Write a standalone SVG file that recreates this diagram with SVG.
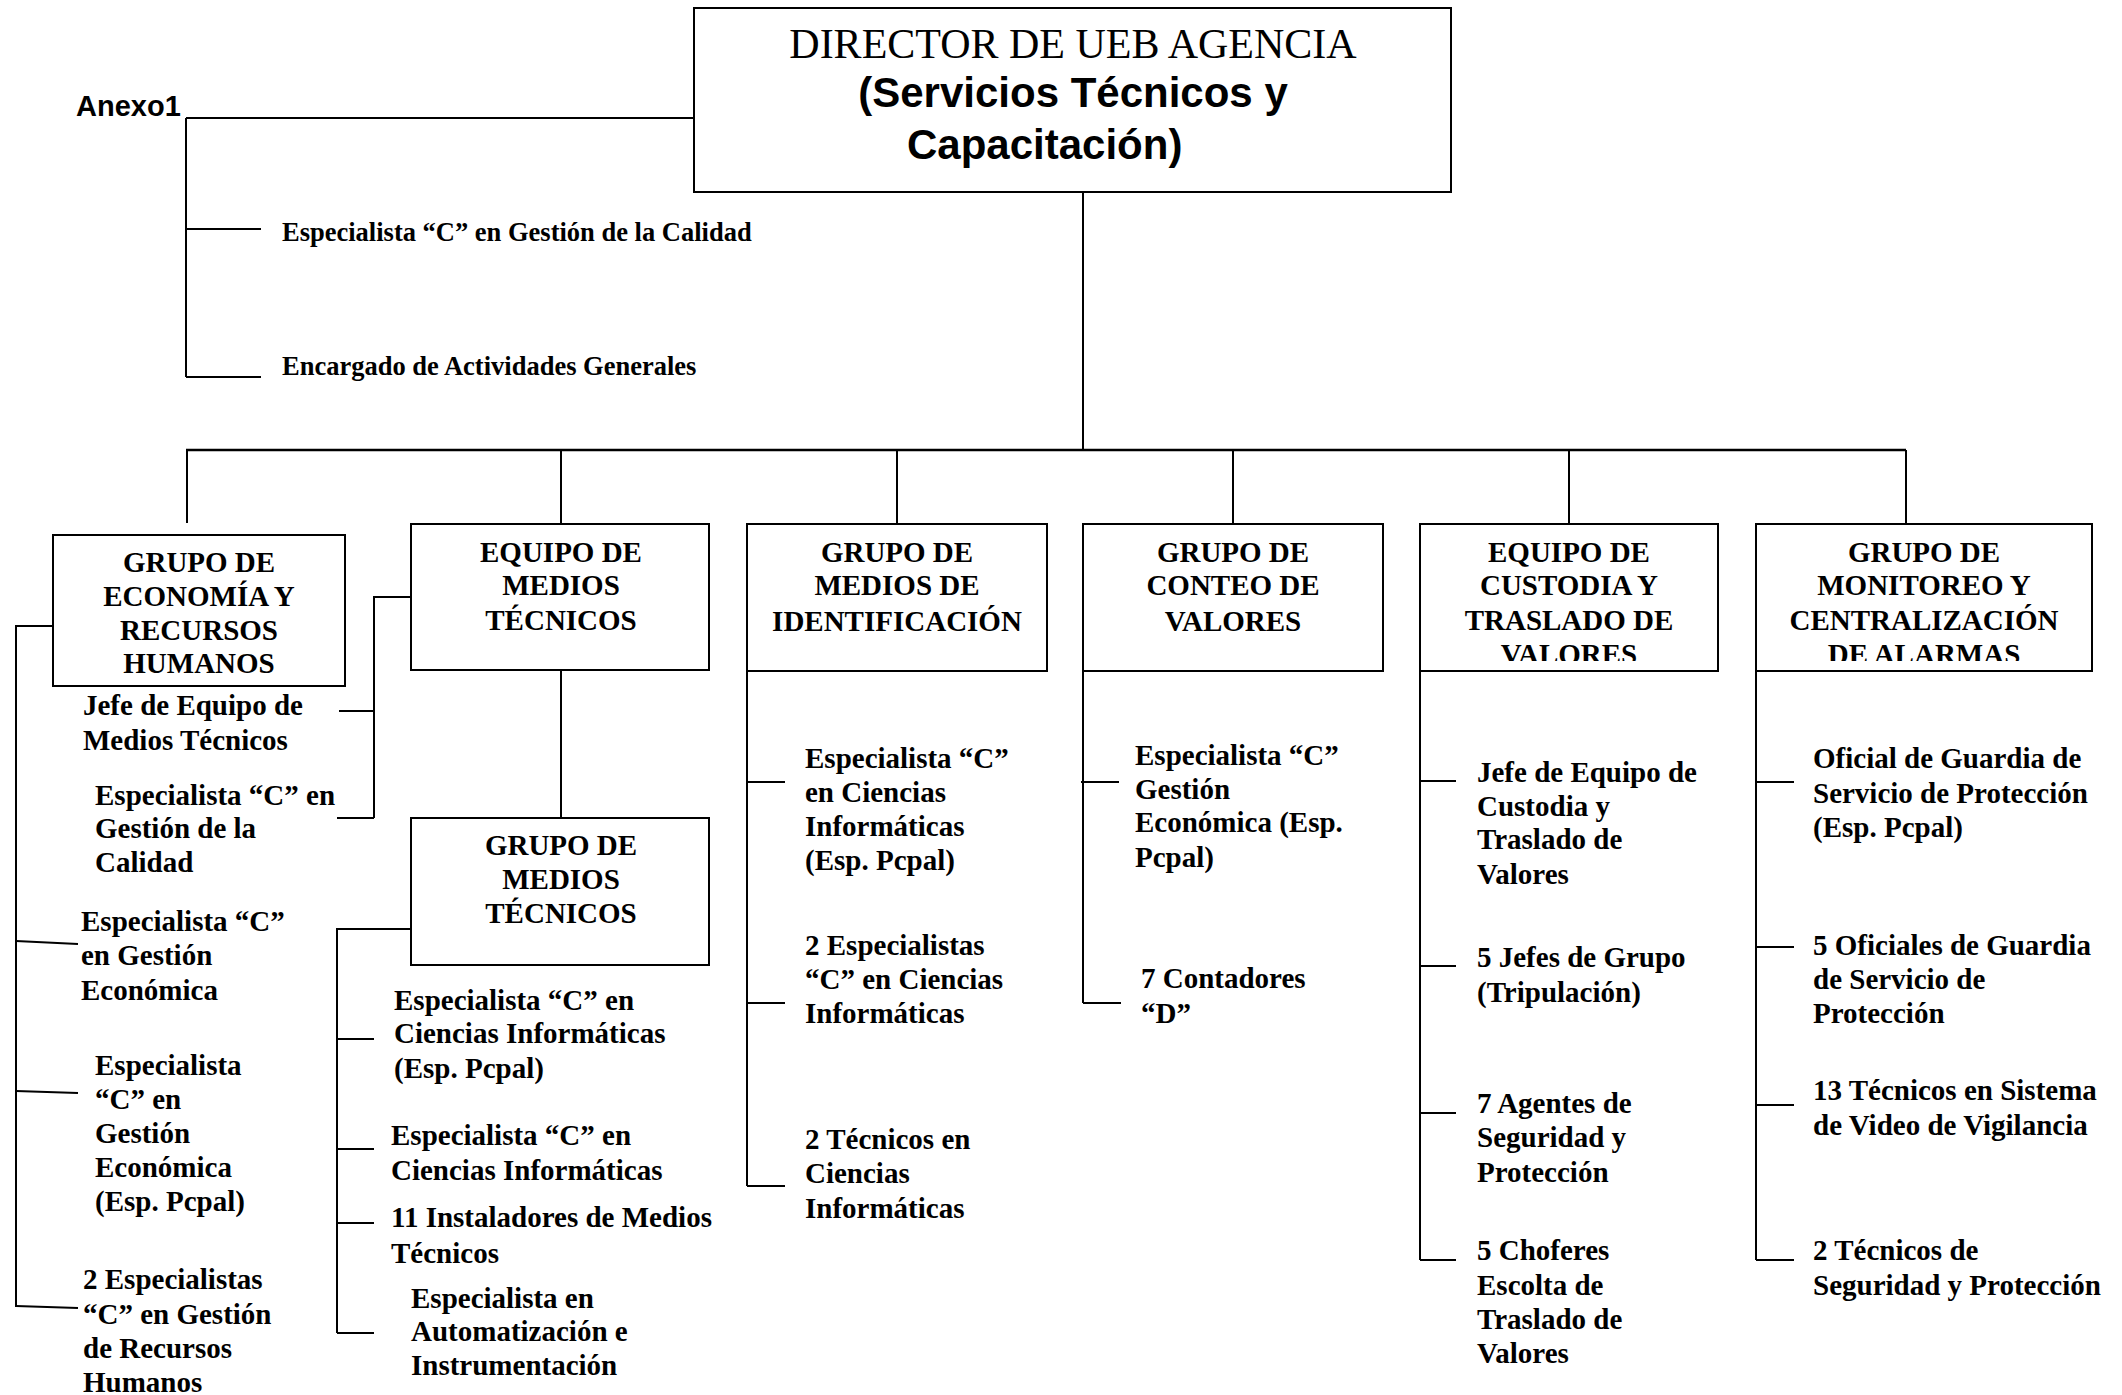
<svg xmlns="http://www.w3.org/2000/svg" width="2122" height="1395" viewBox="0 0 2122 1395">
<style>
.bx{fill:#fff;stroke:#000;stroke-width:2}
.ln{fill:none;stroke:#000;stroke-width:2}
.bt{font-family:"Liberation Serif","Times New Roman",serif;font-weight:bold;font-size:29px;text-anchor:middle;fill:#000}
.t{font-family:"Liberation Serif","Times New Roman",serif;font-weight:bold;font-size:29px;fill:#000}
.ts{font-family:"Liberation Serif","Times New Roman",serif;font-weight:bold;font-size:26.5px;fill:#000}
.sans{font-family:"Liberation Sans",Arial,sans-serif;font-weight:bold;fill:#000}
</style>
<defs>
<clipPath id="c6"><rect x="1420" y="524" width="298" height="137"/></clipPath>
<clipPath id="c7"><rect x="1756" y="524" width="336" height="137"/></clipPath>
</defs>
<rect width="2122" height="1395" fill="#fff"/>

<g id="connectors">
<path class="ln" d="M186,118 H698 M186,118 V377 M186,229 H261 M186,377 H261"/>
<path class="ln" d="M1083,192 V450"/>
<path class="ln" style="stroke-width:2.5" d="M186,450 H1906"/>
<path class="ln" d="M187,450 V523 M561,450 V524 M897,450 V524 M1233,450 V524 M1569,450 V524 M1906,450 V524"/>
<path class="ln" d="M53,626 H16 V1307"/>
<path class="ln" d="M16,941 L78,944 M16,1091 L78,1093 M16,1306 L78,1308"/>
<path class="ln" d="M411,597 H374 V818 M374,711 H339 M374,818 H337"/>
<path class="ln" d="M561,670 V818"/>
<path class="ln" d="M411,929 H337 V1333 M337,1039 H374 M337,1149 H374 M337,1223 H374 M337,1333 H374"/>
<path class="ln" d="M747,671 V1186 M747,782 H785 M747,1003 H785 M747,1186 H785"/>
<path class="ln" d="M1083,671 V1003 M1081,782 H1119 M1083,1003 H1121"/>
<path class="ln" d="M1420,671 V1260 M1420,781 H1456 M1420,966 H1456 M1420,1113 H1456 M1420,1260 H1456"/>
<path class="ln" d="M1756,671 V1260 M1756,782 H1794 M1756,947 H1794 M1756,1105 H1794 M1756,1260 H1794"/>
</g>

<g id="anexo"><text class="sans" x="76" y="116" font-size="29">Anexo1</text></g>

<g id="director">
<rect class="bx" x="694" y="8" width="757" height="184"/>
<text x="1073" y="58" text-anchor="middle" font-family="Liberation Serif,'Times New Roman',serif" font-size="42">DIRECTOR DE UEB AGENCIA</text>
<text class="sans" x="1073" y="107" text-anchor="middle" font-size="42">(Servicios Técnicos y</text>
<text class="sans" x="907" y="159" font-size="42">Capacitación)</text>
</g>

<g id="esp-calidad"><text class="ts" x="282" y="241">Especialista “C” en Gestión de la Calidad</text></g>
<g id="encargado"><text class="ts" x="282" y="375">Encargado de Actividades Generales</text></g>

<g id="grupo-economia">
<rect class="bx" x="53" y="535" width="292" height="151"/>
<text class="bt" x="199" y="572">GRUPO DE</text>
<text class="bt" x="199" y="606">ECONOMÍA Y</text>
<text class="bt" x="199" y="640">RECURSOS</text>
<text class="bt" x="199" y="673">HUMANOS</text>
</g>
<g id="eco-1"><text class="t" x="81" y="931">Especialista “C”</text><text class="t" x="81" y="965">en Gestión</text><text class="t" x="81" y="1000">Económica</text></g>
<g id="eco-2"><text class="t" x="95" y="1075">Especialista</text><text class="t" x="95" y="1109">“C” en</text><text class="t" x="95" y="1143">Gestión</text><text class="t" x="95" y="1177">Económica</text><text class="t" x="95" y="1211">(Esp. Pcpal)</text></g>
<g id="eco-3"><text class="t" x="83" y="1289">2 Especialistas</text><text class="t" x="83" y="1324">“C” en Gestión</text><text class="t" x="83" y="1358">de Recursos</text><text class="t" x="83" y="1392">Humanos</text></g>

<g id="equipo-medios">
<rect class="bx" x="411" y="524" width="298" height="146"/>
<text class="bt" x="561" y="562">EQUIPO DE</text>
<text class="bt" x="561" y="595">MEDIOS</text>
<text class="bt" x="561" y="630">TÉCNICOS</text>
</g>
<g id="emt-1"><text class="t" x="83" y="715">Jefe de Equipo de</text><text class="t" x="83" y="750">Medios Técnicos</text></g>
<g id="emt-2"><text class="t" x="95" y="805">Especialista “C” en</text><text class="t" x="95" y="838">Gestión de la</text><text class="t" x="95" y="872">Calidad</text></g>

<g id="grupo-medios">
<rect class="bx" x="411" y="818" width="298" height="147"/>
<text class="bt" x="561" y="855">GRUPO DE</text>
<text class="bt" x="561" y="889">MEDIOS</text>
<text class="bt" x="561" y="923">TÉCNICOS</text>
</g>
<g id="gmt-1"><text class="t" x="394" y="1010">Especialista “C” en</text><text class="t" x="394" y="1043">Ciencias Informáticas</text><text class="t" x="394" y="1078">(Esp. Pcpal)</text></g>
<g id="gmt-2"><text class="t" x="391" y="1145">Especialista “C” en</text><text class="t" x="391" y="1180">Ciencias Informáticas</text></g>
<g id="gmt-3"><text class="t" x="391" y="1227">11 Instaladores de Medios</text><text class="t" x="391" y="1263">Técnicos</text></g>
<g id="gmt-4"><text class="t" x="411" y="1308">Especialista en</text><text class="t" x="411" y="1341">Automatización e</text><text class="t" x="411" y="1375">Instrumentación</text></g>

<g id="grupo-identificacion">
<rect class="bx" x="747" y="524" width="300" height="147"/>
<text class="bt" x="897" y="562">GRUPO DE</text>
<text class="bt" x="897" y="595">MEDIOS DE</text>
<text class="bt" x="897" y="631">IDENTIFICACIÓN</text>
</g>
<g id="gid-1"><text class="t" x="805" y="768">Especialista “C”</text><text class="t" x="805" y="802">en Ciencias</text><text class="t" x="805" y="836">Informáticas</text><text class="t" x="805" y="870">(Esp. Pcpal)</text></g>
<g id="gid-2"><text class="t" x="805" y="955">2 Especialistas</text><text class="t" x="805" y="989">“C” en Ciencias</text><text class="t" x="805" y="1023">Informáticas</text></g>
<g id="gid-3"><text class="t" x="805" y="1149">2 Técnicos en</text><text class="t" x="805" y="1183">Ciencias</text><text class="t" x="805" y="1218">Informáticas</text></g>

<g id="grupo-conteo">
<rect class="bx" x="1083" y="524" width="300" height="147"/>
<text class="bt" x="1233" y="562">GRUPO DE</text>
<text class="bt" x="1233" y="595">CONTEO DE</text>
<text class="bt" x="1233" y="631">VALORES</text>
</g>
<g id="gc-1"><text class="t" x="1135" y="765">Especialista “C”</text><text class="t" x="1135" y="799">Gestión</text><text class="t" x="1135" y="832">Económica (Esp.</text><text class="t" x="1135" y="867">Pcpal)</text></g>
<g id="gc-2"><text class="t" x="1141" y="988">7 Contadores</text><text class="t" x="1141" y="1023">“D”</text></g>

<g id="equipo-custodia">
<rect class="bx" x="1420" y="524" width="298" height="147"/>
<g clip-path="url(#c6)">
<text class="bt" x="1569" y="562">EQUIPO DE</text>
<text class="bt" x="1569" y="595">CUSTODIA Y</text>
<text class="bt" x="1569" y="630">TRASLADO DE</text>
<text class="bt" x="1569" y="664">VALORES</text>
</g>
</g>
<g id="ec-1"><text class="t" x="1477" y="782">Jefe de Equipo de</text><text class="t" x="1477" y="816">Custodia y</text><text class="t" x="1477" y="849">Traslado de</text><text class="t" x="1477" y="884">Valores</text></g>
<g id="ec-2"><text class="t" x="1477" y="967">5 Jefes de Grupo</text><text class="t" x="1477" y="1002">(Tripulación)</text></g>
<g id="ec-3"><text class="t" x="1477" y="1113">7 Agentes de</text><text class="t" x="1477" y="1147">Seguridad y</text><text class="t" x="1477" y="1182">Protección</text></g>
<g id="ec-4"><text class="t" x="1477" y="1260">5 Choferes</text><text class="t" x="1477" y="1295">Escolta de</text><text class="t" x="1477" y="1329">Traslado de</text><text class="t" x="1477" y="1363">Valores</text></g>

<g id="grupo-monitoreo">
<rect class="bx" x="1756" y="524" width="336" height="147"/>
<g clip-path="url(#c7)">
<text class="bt" x="1924" y="562">GRUPO DE</text>
<text class="bt" x="1924" y="595">MONITOREO Y</text>
<text class="bt" x="1924" y="630">CENTRALIZACIÓN</text>
<text class="bt" x="1924" y="664">DE ALARMAS</text>
</g>
</g>
<g id="gm-1"><text class="t" x="1813" y="768">Oficial de Guardia de</text><text class="t" x="1813" y="803">Servicio de Protección</text><text class="t" x="1813" y="837">(Esp. Pcpal)</text></g>
<g id="gm-2"><text class="t" x="1813" y="955">5 Oficiales de Guardia</text><text class="t" x="1813" y="989">de Servicio de</text><text class="t" x="1813" y="1023">Protección</text></g>
<g id="gm-3"><text class="t" x="1813" y="1100">13 Técnicos en Sistema</text><text class="t" x="1813" y="1135">de Video de Vigilancia</text></g>
<g id="gm-4"><text class="t" x="1813" y="1260">2 Técnicos de</text><text class="t" x="1813" y="1295">Seguridad y Protección</text></g>
</svg>
